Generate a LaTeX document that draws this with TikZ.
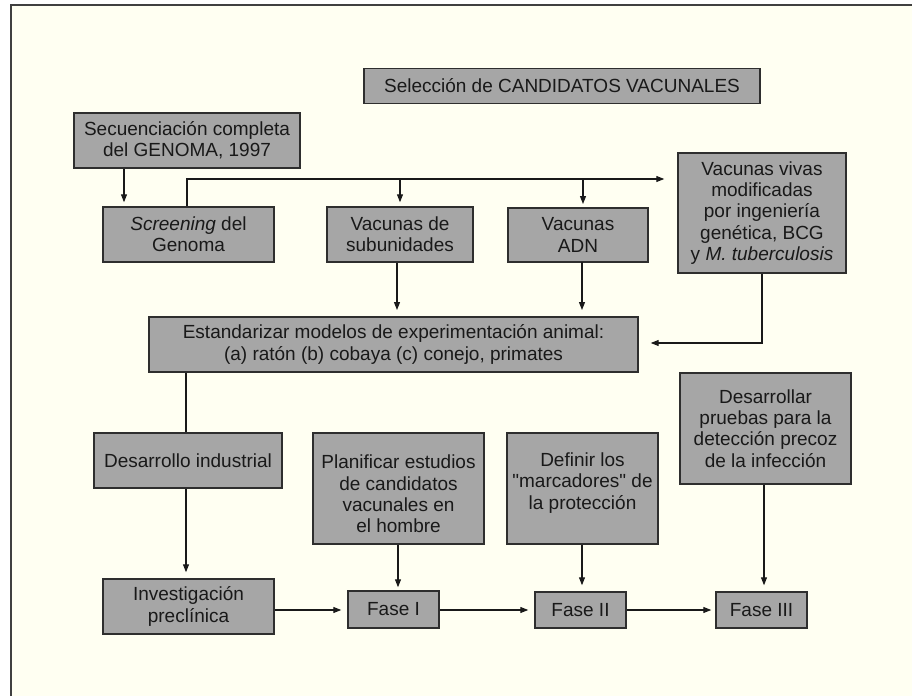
\documentclass[tikz,border=0pt]{standalone}
\usepackage{fontspec}
\setmainfont{Liberation Sans}
\newfontfamily\quotefont{Liberation Sans}
\usetikzlibrary{arrows.meta}
\definecolor{cream}{HTML}{FFFFF2}
\definecolor{boxgray}{HTML}{A6A6A6}
\definecolor{edge}{HTML}{2E2E2E}
\begin{document}
\begin{tikzpicture}[x=1pt,y=-1pt,
  txt/.style={align=center, inner sep=0pt, font=\fontsize{19}{21.3}\selectfont, text=black!90},
  box/.style={txt, draw=edge, line width=1.4pt, fill=boxgray},
  conn/.style={line width=1.1pt, draw=black!90},
  arr/.style={conn, -{Triangle[length=8pt,width=6pt]}}]
\useasboundingbox (0,0) rectangle (912,696);
\fill[white] (0,0) rectangle (912,696);
\fill[cream] (11,5) rectangle (912,696);
\draw[line width=2pt, draw=black!75] (11,696) -- (11,5) -- (912,5);

\node[box, minimum width=396pt, minimum height=35pt] (title) at (562,86) {Selección de CANDIDATOS VACUNALES};
\node[box, minimum width=226pt, minimum height=55pt] (seq) at (187,140.5) {Secuenciación completa\\del GENOMA, 1997};
\node[box, minimum width=171pt, minimum height=55pt] (scr) at (188.5,234.5) {\textit{Screening} del\\Genoma};
\node[box, minimum width=146pt, minimum height=55pt] (sub) at (400,234.5) {Vacunas de\\subunidades};
\node[box, minimum width=140pt, minimum height=54pt] (adn) at (578,235) {Vacunas\\ADN};
\node[box, minimum width=168pt, minimum height=120pt] (viv) at (762,213) {Vacunas vivas\\modificadas\\por ingeniería\\genética, BCG\\y \textit{M. tuberculosis}};
\node[box, minimum width=489pt, minimum height=55pt] (est) at (393.5,344.5) {Estandarizar modelos de experimentación animal:\\(a) ratón (b) cobaya (c) conejo, primates};
\node[box, minimum width=188pt, minimum height=55pt] (ind) at (188,460.5) {Desarrollo industrial};
\node[box, minimum width=171pt, minimum height=55pt] (inv) at (188.5,606.5) {Investigación\\preclínica};
\node[box, minimum width=171pt, minimum height=111pt] (pla) at (398.5,488.5) {};
\node[txt] (plat) at (398.5,494) {Planificar estudios\\de candidatos\\vacunales en\\el hombre};
\node[box, minimum width=151pt, minimum height=111pt] (def) at (582.5,488.5) {};
\node[txt] (deft) at (582.5,483) {Definir los\\{\quotefont"}marcadores{\quotefont"} de\\la protección};
\node[box, minimum width=171pt, minimum height=111pt] (des) at (765.5,428.5) {Desarrollar\\pruebas para la\\detección precoz\\de la infección};
\node[box, minimum width=91pt, minimum height=37pt] (f1) at (393.5,609.5) {Fase I};
\node[box, minimum width=91pt, minimum height=36pt] (f2) at (580.5,610) {Fase II};
\node[box, minimum width=91pt, minimum height=36pt] (f3) at (761.5,610) {Fase III};

\coordinate (bus) at (187,179);
\draw[arr, shorten >=4pt] ([xshift=-63pt]seq.south) -- ([xshift=-63pt]seq.south |- scr.north);
\draw[arr, shorten >=13pt] ([xshift=-1.5pt]scr.north) |- (bus -| viv.west);
\draw[arr, shorten >=4pt] (bus -| sub.north) -- (sub.north);
\draw[arr, shorten >=4pt] (bus -| 583,0) -- (583,208);
\draw[arr, shorten >=7pt] (sub.south -| 397,0) -- (397,317);
\draw[arr, shorten >=7pt] (582,262) -- (582,317);
\draw[arr, shorten >=12pt] (viv.south) |- (est.east |- 0,343);
\draw[conn] (est.south -| 186,0) -- (ind.north -| 186,0);
\draw[arr, shorten >=6pt] (ind.south -| 186,0) -- (inv.north -| 186,0);
\draw[arr, shorten >=3pt] (pla.south -| 398,0) -- (f1.north -| 398,0);
\draw[arr, shorten >=6pt] (def.south -| 582,0) -- (f2.north -| 582,0);
\draw[arr, shorten >=6pt] (des.south -| 764,0) -- (f3.north -| 764,0);
\draw[arr, shorten >=6pt] (inv.east |- 0,610) -- (f1.west |- 0,610);
\draw[arr, shorten >=6pt] (f1.east |- 0,610) -- (f2.west |- 0,610);
\draw[arr, shorten >=4pt] (f2.east |- 0,610) -- (f3.west |- 0,610);
\end{tikzpicture}
\end{document}
